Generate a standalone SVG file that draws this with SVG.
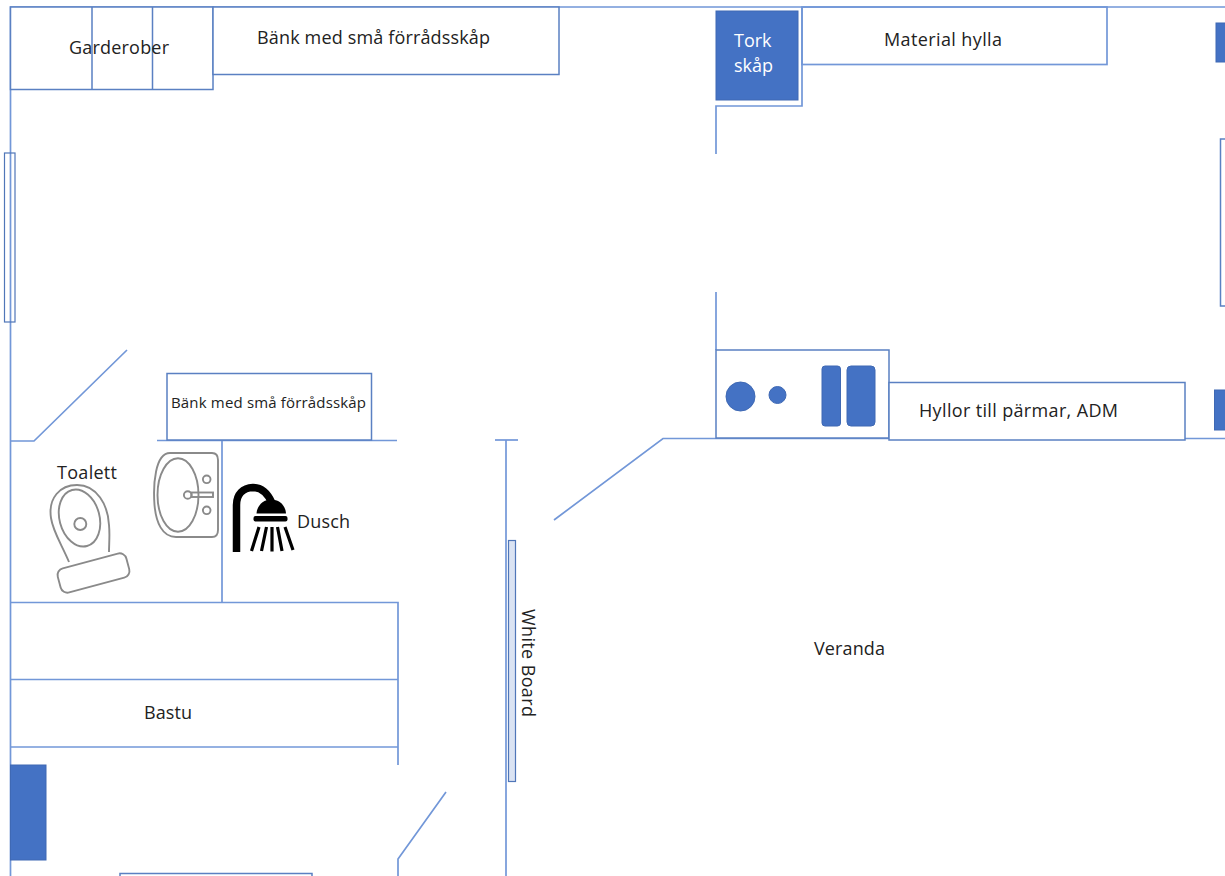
<svg xmlns="http://www.w3.org/2000/svg" width="1225" height="876" viewBox="0 0 1225 876">
<style>
text{font-family:"Open Sans","Noto Sans","DejaVu Sans",sans-serif;font-size:18px;fill:#222}
.w{fill:none;stroke:#7297d8;stroke-width:1.7}
.b{fill:#fff;stroke:#5a80c2;stroke-width:1.5}
.s{fill:#4472c4;stroke:#3f69b4;stroke-width:1}
.f{fill:none;stroke:#8a8a8a;stroke-width:1.9}
</style>
<rect width="1225" height="876" fill="#fff"/>
<g id="connectors">
<path class="w" d="M10.500 876V7H1225"/>
<path class="w" d="M127 350L34 441H10.500"/>
<path class="w" d="M157 440.500H397"/>
<path class="w" d="M222 440.500V602.500"/>
<path class="w" d="M10.500 602.500H398V765"/>
<path class="w" d="M10.500 679.500H398"/>
<path class="w" d="M10.500 747H398"/>
<path class="w" d="M446 792L398 859V876"/>
<path class="w" d="M495 440H518"/>
<path class="w" d="M506 440V876"/>
<path class="w" d="M554 520L663 438.500H1225"/>
<path class="w" d="M716 292V350"/>
<path class="w" d="M716 154V106H802V7"/>
</g>
<g id="garderober">
<rect class="b" x="10.500" y="7" width="202.500" height="82.500"/>
<path class="b" d="M92 7V89.500M152.500 7V89.500"/>
<text x="69" y="53.500" textLength="100">Garderober</text>
</g>
<g id="bank-top">
<rect class="b" x="213" y="7" width="346" height="67.500"/>
<text x="257" y="44" textLength="233">Bänk med små förrådsskåp</text>
</g>
<g id="window-left"><rect x="4.500" y="153" width="10.500" height="169" fill="none" stroke="#4f76b8" stroke-width="1.200"/></g>
<g id="bank-mid">
<rect class="b" x="167" y="373.500" width="204.500" height="66.500"/>
<text x="171" y="408" style="font-size:15px" textLength="195">Bänk med små förrådsskåp</text>
</g>
<g id="tork">
<rect class="s" x="716" y="11" width="82" height="89"/>
<text x="734" y="47" style="fill:#fff">Tork</text>
<text x="734" y="72" style="fill:#fff">skåp</text>
</g>
<g id="material">
<rect class="w" x="802" y="7" width="305" height="57.500"/>
<text x="884" y="46" textLength="118">Material hylla</text>
</g>
<g id="blue-right-top"><rect class="s" x="1216" y="23" width="12" height="39"/></g>
<g id="shelf-right"><path class="b" d="M1228 139H1220.500V306H1228" fill="none"/></g>
<g id="blue-right-mid"><rect class="s" x="1214.500" y="390" width="14" height="40"/></g>
<g id="kitchen">
<rect class="b" x="716" y="350" width="173" height="88"/>
<circle class="s" cx="740.500" cy="396.500" r="14.500"/>
<circle class="s" cx="777.500" cy="395" r="8.500"/>
<rect class="s" x="822" y="366" width="18.500" height="60" rx="3"/>
<rect class="s" x="847" y="366" width="28" height="60" rx="4"/>
</g>
<g id="hyllor">
<rect class="b" x="889" y="382.500" width="296" height="57.500"/>
<text x="919" y="417" textLength="199">Hyllor till pärmar, ADM</text>
</g>
<g id="toilet">
<path class="f" d="M69 562C62 545 53 532 51 518C48 498 60 485 77 485C97 485 108 505 109 525C110 535 109 544 109 552"/>
<ellipse class="f" cx="79.500" cy="518" rx="20" ry="29" transform="rotate(-15 79.500 518)"/>
<circle class="f" cx="80.300" cy="524" r="6"/>
<rect class="f" x="58" y="560.500" width="71" height="25" rx="7" transform="rotate(-15 93.500 573)"/>
<text x="57" y="479" textLength="60">Toalett</text>
</g>
<g id="sink">
<path class="f" d="M170 453H212Q218 453 218 460V530Q218 537 212 537H176C162 537 156 522 154.500 505C153 485 155 453 170 453Z"/>
<ellipse class="f" cx="178" cy="495" rx="20.500" ry="36.700"/>
<circle class="f" cx="206.700" cy="479.300" r="3.800"/>
<circle class="f" cx="206.700" cy="510.300" r="3.800"/>
<circle class="f" cx="187.700" cy="495" r="3.800"/>
<rect class="f" x="191.500" y="492.500" width="21.500" height="4.500"/>
</g>
<g id="shower">
<path d="M236.500 552V505C236.500 494 243 488 253 487.500C262 487.500 268 494 272 503" fill="none" stroke="#000" stroke-width="7.500"/>
<path d="M256.500 513.500C257 505 264 499.500 271 499.500C279 499.500 285.500 505 286 513.500Z" fill="#000"/>
<rect x="253.500" y="516" width="34" height="5.500" rx="2" fill="#000"/>
<path d="M259 527L251.500 551M266.500 527L261.500 551M272 527V551.500M277.500 527L282 551M285 527L293 550" fill="none" stroke="#000" stroke-width="3.200"/>
<text x="297" y="527.500" textLength="53">Dusch</text>
</g>
<g id="bastu"><text x="144" y="718.500" textLength="48">Bastu</text></g>
<g id="blue-left"><rect class="s" x="10.500" y="765" width="35.500" height="95"/></g>
<g id="bottom-box"><path class="b" d="M120 877V873.500H312V877" fill="none"/></g>
<g id="whiteboard">
<rect x="508.500" y="540.500" width="7" height="241" fill="#dae3f3" stroke="#4f76b8" stroke-width="1.200"/>
<text transform="translate(522 609) rotate(90)" textLength="108">White Board</text>
</g>
<g id="veranda"><text x="814" y="654.500" textLength="71">Veranda</text></g>
</svg>
